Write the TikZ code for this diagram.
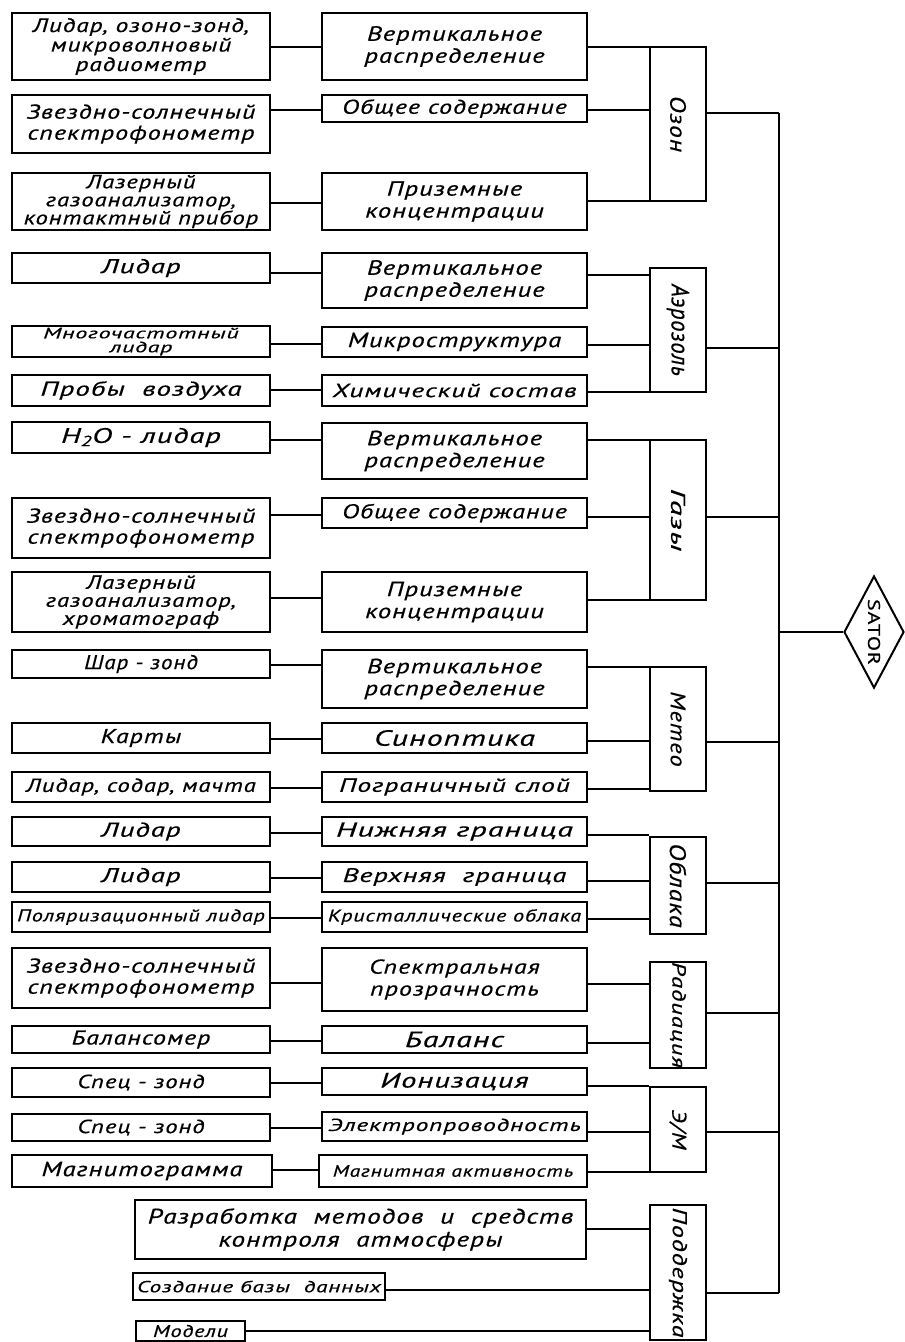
\documentclass[tikz,border=0pt]{standalone}
\usepackage{fontspec}
\newfontfamily\gn{PT Sans}[FakeStretch=0.9,LetterSpace=3,FakeBold=0.5]
\newfontfamily\gm{PT Sans}[FakeStretch=1.15,LetterSpace=5,FakeBold=0.5]
\newfontfamily\ga{PT Sans}[FakeStretch=1.3,LetterSpace=5,FakeBold=0.5]
\newfontfamily\gb{PT Sans}[FakeStretch=1.45,LetterSpace=5,FakeBold=0.5]
\newfontfamily\gc{PT Sans}[FakeStretch=1.6,LetterSpace=5,FakeBold=0.5]
\usetikzlibrary{shapes.geometric}
\newcommand\fz[2]{\fontsize{#1}{#2}\selectfont}
\tikzset{
  box/.style={draw, line width=2pt, inner sep=0pt, align=center},
  link/.style={line width=1.5pt},
}
\newcommand\bx[7]{\node[box, font={#6\itshape}, minimum width={(#4)-(#2)}, minimum height={(#5)-(#3)}] (#1) at ({((#2)+(#4))/2},{((#3)+(#5))/2}) {#7};}
\newcommand\conn[3]{\draw[link] (#1.east |- 0,#3) -- (#2.west |- 0,#3);}
\begin{document}
\begin{tikzpicture}[x=1pt,y=-1pt]
\fill[white] (0,0) rectangle (905,1342);
\useasboundingbox (0,0) rectangle (905,1342);
% left column
\bx{L1}{12}{13}{270}{80}{\ga\fz{19.5}{19.5}}{Лидар, озоно-зонд,\\микроволновый\\радиометр}
\bx{L2}{12}{95}{270}{153}{\ga\fz{20}{21}}{Звездно-солнечный\\спектрофонометр}
\bx{L3}{12}{173}{270}{230}{\ga\fz{19}{18}}{Лазерный\\газоанализатор,\\контактный прибор}
\bx{L4}{12}{253}{270}{283}{\gb\fz{20}{20}}{Лидар}
\bx{L5}{12}{326}{270}{357}{\gc\fz{15}{14}}{Многочастотный\\лидар}
\bx{L6}{12}{375}{270}{406}{\gb\fz{20}{20}}{Пробы\ \ воздуха}
\bx{L7}{12}{422}{270}{453}{\gb\fz{21}{20}}{H\textsubscript{2}O - лидар}
\bx{L8}{12}{498}{270}{558}{\ga\fz{20}{21}}{Звездно-солнечный\\спектрофонометр}
\bx{L9}{12}{572}{270}{632}{\ga\fz{19}{18}}{Лазерный\\газоанализатор,\\хроматограф}
\bx{L10}{12}{650}{270}{678}{\gm\fz{20}{20}}{Шар - зонд}
\bx{L11}{12}{723}{270}{753}{\ga\fz{20}{20}}{Карты}
\bx{L12}{12}{772}{270}{802}{\ga\fz{19}{18}}{Лидар, содар, мачта}
\bx{L13}{12}{817}{270}{846}{\gb\fz{20}{20}}{Лидар}
\bx{L14}{12}{862}{270}{892}{\gb\fz{20}{20}}{Лидар}
\bx{L15}{12}{902}{270}{932}{\ga\fz{17}{17}}{Поляризационный лидар}
\bx{L16}{12}{948}{270}{1008}{\ga\fz{20}{21}}{Звездно-солнечный\\спектрофонометр}
\bx{L17}{12}{1026}{270}{1053}{\ga\fz{20}{20}}{Балансомер}
\bx{L18}{12}{1068}{270}{1097}{\ga\fz{19}{19}}{Спец - зонд}
\bx{L19}{12}{1114}{270}{1141}{\ga\fz{19}{19}}{Спец - зонд}
\bx{L20}{12}{1155}{272}{1187}{\ga\fz{20.5}{20}}{Магнитограмма}
% middle column
\bx{M1}{322}{13}{587}{80}{\ga\fz{20.5}{22}}{Вертикальное\\распределение}
\bx{M2}{322}{95}{587}{122}{\ga\fz{20}{20}}{Общее содержание}
\bx{M3}{322}{173}{587}{230}{\ga\fz{20.5}{22}}{Приземные\\концентрации}
\bx{M4}{322}{253}{587}{308}{\ga\fz{20.5}{22}}{Вертикальное\\распределение}
\bx{M5}{322}{327}{587}{357}{\ga\fz{20.5}{20}}{Микроструктура}
\bx{M6}{322}{375}{587}{406}{\gb\fz{19}{19}}{Химический состав}
\bx{M7}{322}{423}{587}{479}{\ga\fz{20.5}{22}}{Вертикальное\\распределение}
\bx{M8}{322}{498}{587}{528}{\ga\fz{20}{20}}{Общее содержание}
\bx{M9}{322}{572}{587}{632}{\ga\fz{20.5}{22}}{Приземные\\концентрации}
\bx{M10}{322}{650}{587}{708}{\ga\fz{20.5}{22}}{Вертикальное\\распределение}
\bx{M11}{322}{723}{587}{753}{\gb\fz{22}{20}}{Синоптика}
\bx{M12}{322}{772}{587}{802}{\gb\fz{19}{19}}{Пограничный слой}
\bx{M13}{322}{817}{587}{846}{\gc\fz{20}{20}}{Нижняя граница}
\bx{M14}{322}{862}{587}{892}{\gb\fz{19.5}{19}}{Верхняя\ \ граница}
\bx{M15}{322}{902}{587}{932}{\ga\fz{17}{17}}{Кристаллические облака}
\bx{M16}{322}{948}{587}{1011}{\ga\fz{20}{22}}{Спектральная\\прозрачность}
\bx{M17}{322}{1026}{587}{1053}{\gb\fz{22}{20}}{Баланс}
\bx{M18}{322}{1068}{587}{1095}{\gb\fz{21}{20}}{Ионизация}
\bx{M19}{322}{1112}{587}{1141}{\gb\fz{17.5}{17}}{Электропроводность}
\bx{M20}{319}{1155}{587}{1187}{\ga\fz{16.5}{17}}{Магнитная активность}
% bottom boxes
\bx{D1}{135}{1200}{586}{1259}{\ga\fz{21}{23}}{Разработка\ \ методов\ \ и\ \ средств\\контроля\ \ атмосферы}
\bx{D2}{133}{1273}{385}{1300}{\gb\fz{16}{16}}{Создание базы\ \ данных}
\bx{D3}{136}{1321}{245}{1341}{\ga\fz{17}{16}}{Модели}
% category boxes
\bx{C1}{650}{47}{706}{201}{\gm\fz{22}{22}}{\rotatebox{-90}{Озон}}
\bx{C2}{650}{268}{706}{392}{\gn\fz{25}{25}}{\rotatebox{-90}{Аэрозоль}}
\bx{C3}{650}{440}{706}{600}{\gc\fz{20}{20}}{\rotatebox{-90}{Газы}}
\bx{C4}{650}{667}{706}{791}{\gm\fz{21}{21}}{\rotatebox{-90}{Метео}}
\bx{C5}{650}{837}{706}{934}{\gm\fz{22.5}{22}}{\rotatebox{-90}{Облака}}
\bx{C6}{650}{962}{706}{1068}{\ga\fz{19}{19}}{\rotatebox{-90}{Радиация}}
\bx{C7}{650}{1087}{706}{1172}{\gm\fz{20}{20}}{\rotatebox{-90}{Э/М}}
\bx{C8}{650}{1205}{706}{1340}{\ga\fz{20}{20}}{\rotatebox{-90}{Поддержка}}
% SATOR
\node[draw, diamond, shape aspect=0.5, line width=2pt, minimum width=60, minimum height=112, inner sep=0pt, font=\ga\fz{17}{17}] (S) at (874,632) {\rotatebox{-90}{SATOR}};
% left-to-middle connectors
\conn{L1}{M1}{47}
\conn{L2}{M2}{110}
\conn{L3}{M3}{203}
\conn{L4}{M4}{273}
\conn{L5}{M5}{344}
\conn{L6}{M6}{390}
\conn{L7}{M7}{440}
\conn{L8}{M8}{515}
\conn{L9}{M9}{598}
\conn{L10}{M10}{665}
\conn{L11}{M11}{739}
\conn{L12}{M12}{788}
\conn{L13}{M13}{833}
\conn{L14}{M14}{878}
\conn{L15}{M15}{918}
\conn{L16}{M16}{983}
\conn{L17}{M17}{1041}
\conn{L18}{M18}{1083}
\conn{L19}{M19}{1128}
\conn{L20}{M20}{1170}
% middle-to-category connectors
\conn{M1}{C1}{47}
\conn{M2}{C1}{110}
\conn{M3}{C1}{201}
\conn{M4}{C2}{275}
\conn{M5}{C2}{345}
\conn{M6}{C2}{392}
\conn{M7}{C3}{440}
\conn{M8}{C3}{517}
\conn{M9}{C3}{600}
\conn{M10}{C4}{667}
\conn{M11}{C4}{741}
\conn{M12}{C4}{789}
\conn{M13}{C5}{835}
\conn{M14}{C5}{881}
\conn{M15}{C5}{919}
\conn{M16}{C6}{984}
\conn{M17}{C6}{1043}
\conn{M18}{C7}{1086}
\conn{M19}{C7}{1132}
\conn{M20}{C7}{1172}
\conn{D1}{C8}{1229}
\conn{D2}{C8}{1290}
\conn{D3}{C8}{1331}
% bus
\coordinate (bustop) at (779,113);
\coordinate (busbot) at (779,1293);
\draw[link] (bustop) -- (busbot);
\draw[link] (C1.east |- bustop) -- (bustop);
\draw[link] (C2.east |- 0,348) -- (bustop |- 0,348);
\draw[link] (C3.east |- 0,517) -- (bustop |- 0,517);
\draw[link] (C4.east |- 0,742) -- (bustop |- 0,742);
\draw[link] (C5.east |- 0,883) -- (bustop |- 0,883);
\draw[link] (C6.east |- 0,1013) -- (bustop |- 0,1013);
\draw[link] (C7.east |- 0,1132) -- (bustop |- 0,1132);
\draw[link] (C8.east |- busbot) -- (busbot);
\draw[link] (bustop |- S.west) -- (S.west);
\end{tikzpicture}
\end{document}
